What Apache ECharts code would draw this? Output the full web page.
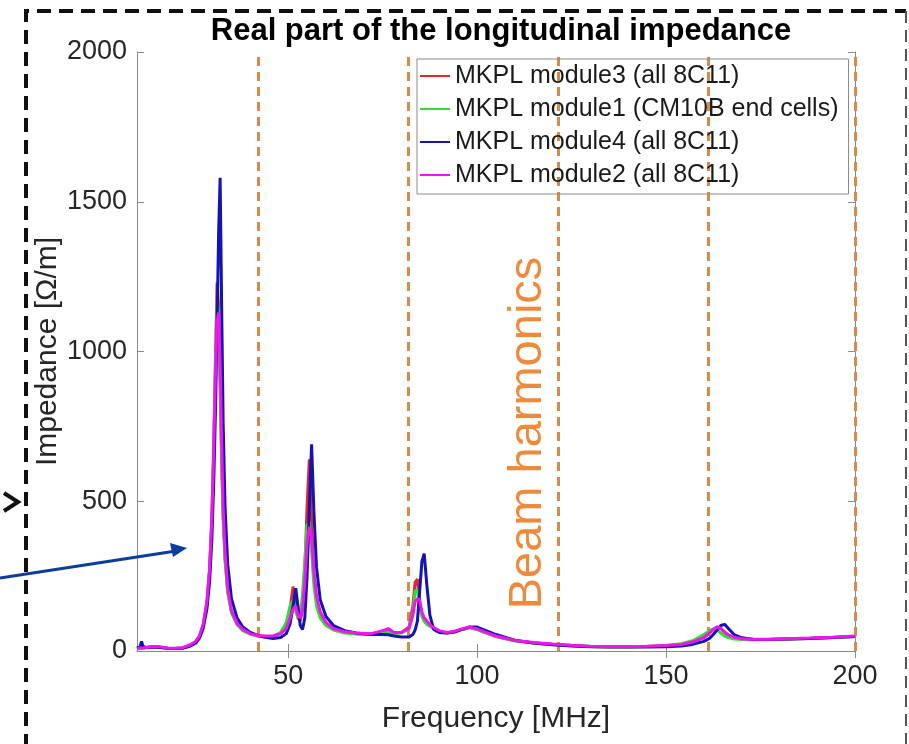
<!DOCTYPE html>
<html><head><meta charset="utf-8">
<script src="https://cdn.jsdelivr.net/npm/echarts@6/dist/echarts.min.js"></script>
<style>html,body{margin:0;padding:0;background:#fff}#c{width:909px;height:744px}</style>
</head><body><div id="c"></div>
<script>
const freq = [10,10.8,11.2,11.6,12.5,14,16,18,20,22,24,25.5,26.5,27.5,28.5,29.2,29.8,30.3,30.8,31.2,31.6,32,32.4,32.8,33.3,34,35,36.5,38,40,42,44,46,48,49.5,50.5,51.3,52,52.6,53.2,53.8,54.4,55,55.6,56.2,56.8,57.5,58.5,60,62,65,68,72,75,76.5,78,80,82,83,83.6,84.2,84.8,85.4,86,86.7,87.5,88.5,90,92,94,96,98,100,102,105,110,115,120,125,130,135,140,145,150,154,157,160,161.5,162.5,163.5,164.5,165.5,166.5,168,170,173,177,182,188,194,200];
const module3 = [8,10,12,10,12,14,13,9,8,10,18,30,48,85,160,270,440,680,1000,1230,1150,900,640,450,310,200,130,90,70,57,50,47,48,60,85,140,215,160,110,100,140,260,480,640,430,260,170,120,90,72,62,58,57,62,66,60,62,80,150,230,240,160,120,100,90,85,75,65,60,64,72,78,72,62,48,34,27,22,18,15,14,14,15,17,22,30,45,60,72,80,75,62,52,44,40,38,38,40,42,45,48];
const module1 = [8,10,12,10,12,14,13,9,8,10,18,30,48,85,160,265,430,660,960,1180,1120,880,630,440,300,195,128,88,68,56,50,47,48,62,95,150,170,130,110,120,190,300,420,430,330,220,150,110,85,70,60,57,56,60,62,58,60,75,130,200,205,150,115,100,90,82,75,65,60,64,72,78,72,62,48,34,27,22,18,15,14,14,15,18,24,34,55,68,74,70,60,50,45,40,38,37,38,40,42,45,48];
const module4 = [10,14,32,15,12,13,12,9,8,9,16,26,42,75,140,230,370,560,820,1100,1400,1580,1150,760,480,290,175,110,80,62,52,46,42,45,58,90,150,210,150,85,72,110,250,480,690,470,280,170,115,85,68,60,55,55,54,50,47,47,55,70,100,200,300,325,220,120,72,62,60,63,72,80,80,70,55,36,27,21,17,14,13,13,13,14,17,22,32,42,55,70,85,89,75,55,44,39,38,40,42,45,48];
const module2 = [8,10,12,10,12,15,14,10,9,11,20,32,50,88,165,275,440,670,950,1100,1130,960,700,480,330,210,135,92,72,58,52,50,50,58,75,110,140,150,120,110,140,230,360,415,380,270,185,130,95,75,64,60,58,68,75,62,62,75,120,165,175,170,130,110,100,88,78,68,62,66,74,80,74,64,50,35,28,23,19,16,15,15,16,18,22,30,45,60,72,80,76,64,54,46,41,39,39,41,43,46,50];
const harmonics = [42.2,81.9,121.5,161.1,200];
const xTicks = [50,100,150,200];
const yTicks = [0,500,1000,1500,2000];
const names = ['MKPL module3 (all 8C11)','MKPL module1 (CM10B end cells)','MKPL module4 (all 8C11)','MKPL module2 (all 8C11)'];
const colors = ['#E0262E','#2EE02E','#1414B4','#F014F0'];

const FONT = 'Liberation Sans, Arial, Helvetica, sans-serif';
const seriesVals = [module3, module1, module4, module2];
const chart = echarts.init(document.getElementById('c'), null, {renderer:'canvas'});
const series = seriesVals.map((vals, i) => ({
  name: names[i], type: 'line', xAxisIndex: 0, yAxisIndex: 0,
  data: freq.map((f, k) => [f, vals[k]]),
  showSymbol: false, symbol: 'none', smooth: false,
  lineStyle: {color: colors[i], width: 3}, itemStyle: {color: colors[i]},
  z: 3 + i, animation: false
}));
series[0].markLine = {
  silent: true, symbol: 'none', animation: false,
  label: {show: false},
  lineStyle: {color: '#D98A48', width: 3, type: [9, 6]},
  data: harmonics.map(f => ({xAxis: f}))
};
series[0].markLine.z = 2;

const axisLineStyle = {show: true, lineStyle: {color: '#8a8a8a', width: 1}};
chart.setOption({
  animation: false,
  title: {text: 'Real part of the longitudinal impedance', left: 496, textAlign: 'center', top: 11,
    textStyle: {fontFamily: FONT, fontWeight: 'bold', fontSize: 31, color: '#000'}},
  grid: {left: 137, right: 54, top: 52, bottom: 93, containLabel: false},
  legend: {
    data: names, orient: 'vertical', left: 417, top: 59,
    itemWidth: 30, itemHeight: 14, itemGap: 7,
    padding: [4, 10, 6, 3],
    borderColor: '#8a8a8a', borderWidth: 1, backgroundColor: 'transparent',
    icon: 'path://M0,6 L30,6 L30,8 L0,8 Z',
    textStyle: {fontFamily: FONT, fontSize: 25, color: '#1a1a1a', lineHeight: 26}
  },
  xAxis: [
    {type: 'value', min: 10, max: 200, position: 'bottom',
     name: 'Frequency [MHz]', nameLocation: 'middle', nameGap: 53, nameMoveOverlap: false,
     nameTextStyle: {fontFamily: FONT, fontSize: 30, color: '#262626'},
     axisLine: axisLineStyle, splitLine: {show: false},
     axisTick: {show: true, inside: true, length: 7, customValues: xTicks, lineStyle: {color: '#8a8a8a'}},
     axisLabel: {customValues: xTicks, fontFamily: FONT, fontSize: 27, color: '#262626', margin: 12}},
    {type: 'value', min: 10, max: 200, position: 'top',
     axisLine: axisLineStyle, splitLine: {show: false},
     axisTick: {show: true, inside: true, length: 7, customValues: xTicks, lineStyle: {color: '#8a8a8a'}},
     axisLabel: {show: false}}
  ],
  yAxis: [
    {type: 'value', min: 0, max: 2000, interval: 500, position: 'left',
     name: 'Impedance [\u03A9/m]', nameLocation: 'middle', nameGap: 74, nameMoveOverlap: false,
     nameTextStyle: {fontFamily: FONT, fontSize: 30, color: '#262626'},
     axisLine: axisLineStyle, splitLine: {show: false},
     axisTick: {show: true, inside: true, length: 7, lineStyle: {color: '#8a8a8a'}},
     axisLabel: {fontFamily: FONT, fontSize: 27, color: '#262626', margin: 10,
       formatter: v => yTicks.includes(v) ? String(v) : ''}},
    {type: 'value', min: 0, max: 2000, interval: 500, position: 'right',
     axisLine: axisLineStyle, splitLine: {show: false},
     axisTick: {show: true, inside: true, length: 7, lineStyle: {color: '#8a8a8a'}},
     axisLabel: {show: false}}
  ],
  series: series,
  graphic: [
    {type: 'text', x: 528, y: 433, rotation: Math.PI / 2, z: 10,
     style: {text: 'Beam harmonics', fontFamily: FONT, fontSize: 47, fill: '#EE8A3C', align: 'center', verticalAlign: 'middle'}},
    {type: 'polyline', z: 20, shape: {points: [[26, 748], [26, 11], [906, 11]]},
     style: {stroke: '#111', lineWidth: 4, lineDash: [14, 8], fill: null}},
    {type: 'polyline', z: 20, shape: {points: [[906, 11], [906, 748]]},
     style: {stroke: '#555', lineWidth: 2, lineDash: [12, 7], fill: null}},
    {type: 'polyline', z: 20, shape: {points: [[4, 493], [18, 502], [4, 511]]},
     style: {stroke: '#111', lineWidth: 4, fill: null}},
    {type: 'line', z: 20, shape: {x1: 0, y1: 578, x2: 176, y2: 551},
     style: {stroke: '#0B3C9F', lineWidth: 3}},
    {type: 'polygon', z: 20, shape: {points: [[187, 548], [170, 543], [173, 557]]},
     style: {fill: '#0B3C9F'}}
  ]
});
</script>
</body></html>
